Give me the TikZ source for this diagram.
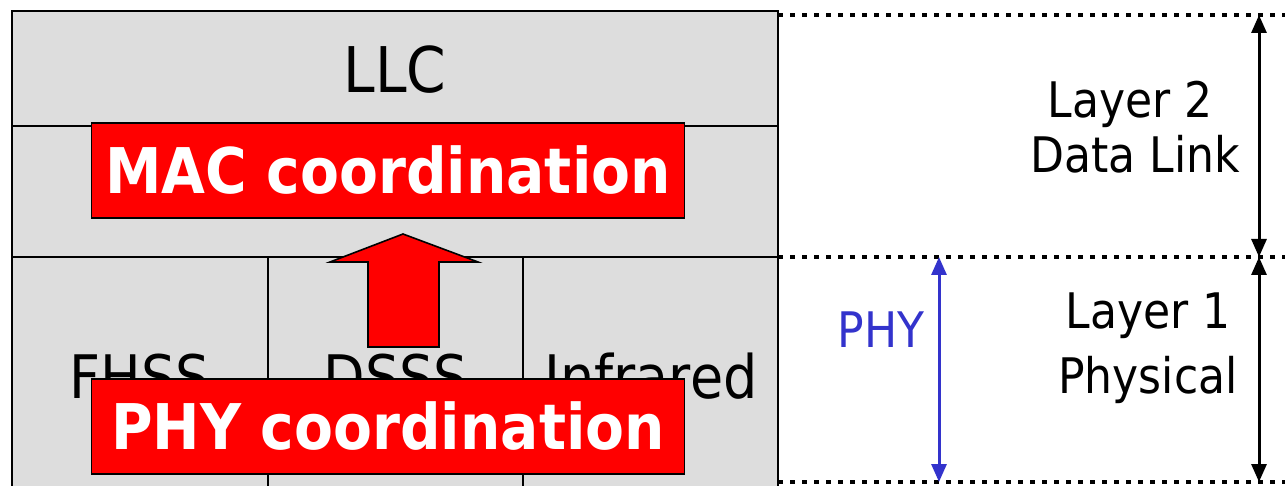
\documentclass[tikz,border=0pt]{standalone}
\usepackage{fontspec}
\setmainfont{DejaVu Sans}[FakeStretch=0.9]
\usetikzlibrary{arrows.meta}
\definecolor{cellgray}{HTML}{DDDDDD}
\definecolor{phyblue}{HTML}{3333CC}

\begin{document}
\begin{tikzpicture}[x=1pt,y=-1pt,
        layer cell/.style={draw=black,fill=cellgray,line width=1.6pt},
        big text/.style={font=\fontsize{63}{70}\selectfont,anchor=base,inner sep=0pt},
        cell text/.style={font=\fontsize{60}{66}\selectfont,anchor=base,inner sep=0pt},
        side text/.style={font=\fontsize{49}{55}\selectfont,anchor=base,inner sep=0pt},
        red box/.style={draw=black,fill=red,line width=1.6pt,minimum width=593pt,minimum height=95pt,
            inner sep=0pt,text=white,font=\fontsize{63}{70}\selectfont\bfseries},
        layer sep/.style={line width=4pt,dash pattern=on 4.5pt off 7.5pt},
        span/.style={line width=3pt,{Triangle[width=15pt,length=18pt]}-{Triangle[width=15pt,length=18pt]}}]
        \useasboundingbox (0,0) rectangle (1285,486);
        \clip (0,0) rectangle (1285,486);
        % protocol stack
        \draw[layer cell] (12,11) rectangle (778,126);
        \draw[layer cell] (12,126) rectangle (778,257);
        \draw[layer cell] (12,257) rectangle (268,500);
        \draw[layer cell] (268,257) rectangle (523,500);
        \draw[layer cell] (523,257) rectangle (778,500);
        \node[big text] (llc) at (395,93) {LLC};
        \node[cell text] (fhss) at (140,398) {FHSS};
        \node[cell text] (dsss) at (396,398) {DSSS};
        \node[cell text] (ir) at (651,398) {Infrared};
        \node[red box] (mac) at (388,170.5) {MAC coordination};
        \draw[layer cell,fill=red] (403,234) -- (478,262) -- (439,262) -- (439,347)
            -- (368,347) -- (368,262) -- (330,262) -- cycle;
        \node[red box] (phyc) at (388,426.5) {PHY coordination};
        % layer boundaries
        \draw[layer sep] (778,15) -- (1285,15);
        \draw[layer sep] (778,257) -- (1285,257);
        \draw[layer sep] (778,482) -- (1285,482);
        \coordinate (top) at (1259,15);
        \coordinate (mid) at (1259,257);
        \coordinate (bot) at (1259,482);
        \coordinate (phytop) at (939,257);
        \coordinate (phybot) at (939,482);
        \draw[span] (top) -- (mid);
        \draw[span] (mid) -- (bot);
        \draw[span,phyblue] (phytop) -- (phybot);
        \node[side text] (l2) at (1130,118) {Layer 2};
        \node[side text] (dl) at (1135,173) {Data Link};
        \node[side text] (l1) at (1148,328) {Layer 1};
        \node[side text] (ph) at (1148,393) {Physical};
        \node[side text,text=phyblue] (phy) at (881,348) {PHY};
\end{tikzpicture}
\end{document}
